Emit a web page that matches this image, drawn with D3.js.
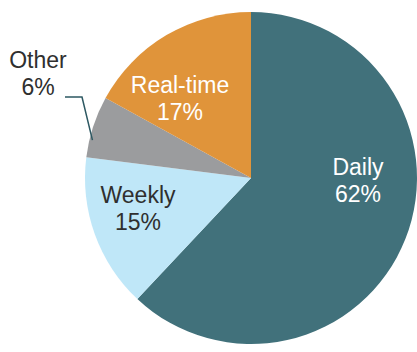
<!DOCTYPE html>
<html>
<head>
<meta charset="utf-8">
<script src="https://cdn.jsdelivr.net/npm/d3@7"></script>
<style>
  html, body { margin: 0; padding: 0; background: #fff; }
  svg { display: block; }
  text { font-family: "Liberation Sans", Arial, sans-serif; }
</style>
</head>
<body>
<div id="chart"></div>
<script>
const categories = ["Daily", "Weekly", "Other", "Real-time"];
const shares = [62, 15, 6, 17];
const colors = ["#41717b", "#bfe7f8", "#9b9c9e", "#e0943a"];
const textColors = ["#ffffff", "#2f2f2f", "#2f2f2f", "#ffffff"];

const width = 417, height = 352;
const cx = 251, cy = 178, radius = 166;

// label anchors relative to the pie centre (baseline of first line)
const labelOffset = {
    "Daily": [107, -3],
    "Weekly": [-113, 25],
    "Other": [-213, -110],
    "Real-time": [-71, -85]
};

let data = categories.map((c, i) => ({name: c, value: shares[i], i: i}));

let svg = d3.select("#chart").append("svg")
    .attr("width", width)
    .attr("height", height);

let g = svg.append("g").attr("transform", `translate(${cx},${cy})`);

let pie = d3.pie().value(d => d.value).sort(null);
let arc = d3.arc().innerRadius(0).outerRadius(radius);
let arcs = pie(data);

g.selectAll(".slice")
    .data(arcs)
    .join("path")
    .attr("class", "slice")
    .attr("fill", d => colors[d.data.i])
    .attr("d", arc);

// leader line for Other
let other = arcs.find(d => d.data.name === "Other");
let mid = (other.startAngle + other.endAngle) / 2 - 0.08;
let rEnd = radius - 3;
let endPt = [Math.sin(mid) * rEnd, -Math.cos(mid) * rEnd];
let lo = labelOffset["Other"];
g.append("polyline")
    .attr("points", [[lo[0] + 27, lo[1] + 29], [lo[0] + 44, lo[1] + 29], endPt].map(p => p.join(",")).join(" "))
    .attr("fill", "none")
    .attr("stroke", "#2d5862")
    .attr("stroke-width", 1.5);

let labels = g.selectAll(".lbl")
    .data(arcs)
    .join("text")
    .attr("class", "lbl")
    .attr("text-anchor", "middle")
    .attr("font-size", 23)
    .attr("fill", d => textColors[d.data.i])
    .attr("transform", d => `translate(${labelOffset[d.data.name][0]},${labelOffset[d.data.name][1]})`);

labels.append("tspan")
    .attr("x", 0)
    .attr("y", 0)
    .text(d => d.data.name);

labels.append("tspan")
    .attr("x", 0)
    .attr("y", 27)
    .text(d => d.data.value + "%");
</script>
</body>
</html>
